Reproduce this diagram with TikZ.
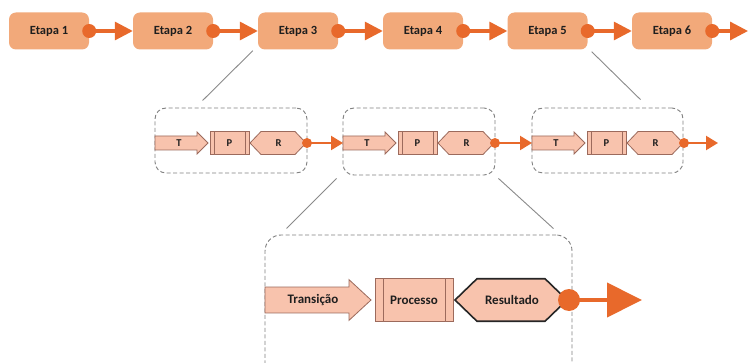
\documentclass[tikz,border=0pt]{standalone}
\usepackage{fontspec}
\setmainfont{Carlito}
\usetikzlibrary{arrows.meta,calc}
\definecolor{etapafill}{HTML}{F2A97A}
\definecolor{orng}{HTML}{E8692B}
\definecolor{salmon}{HTML}{F8C3AD}
\definecolor{brn}{HTML}{9C6A5C}
\definecolor{dgray}{HTML}{808080}
\definecolor{lgray}{HTML}{8A8A8A}
\definecolor{txt}{HTML}{1E1E1E}
\tikzset{
  etapa/.style={draw=none,fill=etapafill,rounded corners=7pt,minimum width=80pt,minimum height=37pt,
    text=txt,font=\bfseries\fontsize{12.5}{12.5}\selectfont,inner sep=0pt},
  topdot/.style={circle,fill=orng,draw=none,minimum size=14pt,inner sep=0pt},
  topline/.style={draw=orng,line width=3.2pt,-{Triangle[length=18pt,width=18pt]}},
  middot/.style={circle,fill=orng,draw=none,minimum size=10pt,inner sep=0pt},
  midline/.style={draw=orng,line width=2.2pt,-{Triangle[length=12pt,width=14pt]}},
  botdot/.style={circle,fill=orng,draw=none,minimum size=22pt,inner sep=0pt},
  botline/.style={draw=orng,line width=4pt,-{Triangle[length=35pt,width=34pt]}},
  groupbox/.style={draw=dgray,line width=0.9pt,dash pattern=on 4pt off 2.5pt,rounded corners=11pt,
    fill=none,inner sep=0pt},
  tprshape/.style={fill=salmon,draw=brn,line width=0.8pt,line join=miter},
  tprlbl/.style={text=txt,inner sep=0pt,font=\bfseries\fontsize{10.5}{10.5}\selectfont},
  thinline/.style={draw=lgray,line width=0.9pt},
  resbot/.style={draw=black!85,line width=1.6pt},
  resmid/.style={},
}
\newcommand\tprgroup[8]{%
\begin{scope}[shift={#1},#2]
 \coordinate (#3in) at (0,0);
 \draw[tprshape] (0,-7) -- (42,-7) -- (42,-11) -- (53,0) -- (42,11) -- (42,7) -- (0,7) -- cycle;
 \node[tprlbl] (#3t) at (24,0) {#4};
 \draw[tprshape] (55,-11.5) rectangle (94,11.5);
 \draw[tprshape] (59,-11.5) -- (59,11.5) (90,-11.5) -- (90,11.5);
 \node[tprlbl] (#3p) at (74.5,0) {#5};
 \draw[tprshape,#7] (95,0) -- (106,-11.5) -- (140,-11.5) -- (151,0) -- (140,11.5) -- (106,11.5) -- cycle;
 \node[tprlbl] (#3r) at (123.5,0) {#6};
 \node[#8] (#3d) at (152,0) {};
\end{scope}}
\begin{document}
\begin{tikzpicture}[x=1pt,y=-1pt]
\useasboundingbox (0,0) rectangle (749,363);
\clip (0,0) rectangle (749,363);
\fill[white] (0,0) rectangle (749,363);
% top row
\node[etapa] (e1) at (49,31) {Etapa 1};
\node[etapa] (e2) at (173,31) {Etapa 2};
\node[etapa] (e3) at (298,31) {Etapa 3};
\node[etapa] (e4) at (423,31) {Etapa 4};
\node[etapa] (e5) at (547.5,31) {Etapa 5};
\node[etapa] (e6) at (672,31) {Etapa 6};
\coordinate (e7) at (748,31);
\foreach \a/\b in {1/2,2/3,3/4,4/5,5/6,6/7}{
  \node[topdot] (d\a) at (e\a.east) {};
  \draw[topline] (d\a.center) -- (e\b.west);
}
% middle dashed boxes
\node[groupbox,minimum width=152pt,minimum height=65pt] (g1) at (231,140.5) {};
\node[groupbox,minimum width=152pt,minimum height=67pt] (g2) at (419,141.5) {};
\node[groupbox,minimum width=151pt,minimum height=65pt] (g3) at (607.5,140.5) {};
% bottom dashed box
\node[groupbox,minimum width=307pt,minimum height=145pt,rounded corners=16pt] (gb) at (418.5,307.5) {};
% zoom lines
\draw[thinline] ([xshift=-5pt,yshift=-1pt]e3.south west) -- ([xshift=48pt,yshift=7pt]g1.north west);
\draw[thinline] ([xshift=4pt,yshift=-2pt]e5.south east) -- ([xshift=-43pt,yshift=8pt]g3.north east);
\draw[thinline] ([xshift=-6pt,yshift=-3pt]g2.south west) -- ([xshift=22pt,yshift=6pt]gb.north west);
\draw[thinline] ([xshift=3pt,yshift=-3pt]g2.south east) -- ([xshift=-19pt,yshift=6pt]gb.north east);
% middle groups
\tprgroup{(155,143)}{}{ma}{T}{P}{R}{resmid}{middot}
\tprgroup{(343,143)}{}{mb}{T}{P}{R}{resmid}{middot}
\tprgroup{(532,143)}{}{mc}{T}{P}{R}{resmid}{middot}
\coordinate (mend) at (718,143);
\draw[midline] (mad.center) -- (mbin);
\draw[midline] (mbd.center) -- (mcin);
\draw[midline] (mcd.center) -- (mend);
% bottom group
\tprgroup{(265,300)}{xscale=2,yscale=1.85,tprlbl/.style={text=txt,inner sep=0pt,font=\bfseries\fontsize{13}{13}\selectfont}}{bb}{Transição}{Processo}{Resultado}{resbot}{botdot}
\coordinate (bend) at (642,300);
\draw[botline] (bbd.center) -- (bend);
\end{tikzpicture}
\end{document}
